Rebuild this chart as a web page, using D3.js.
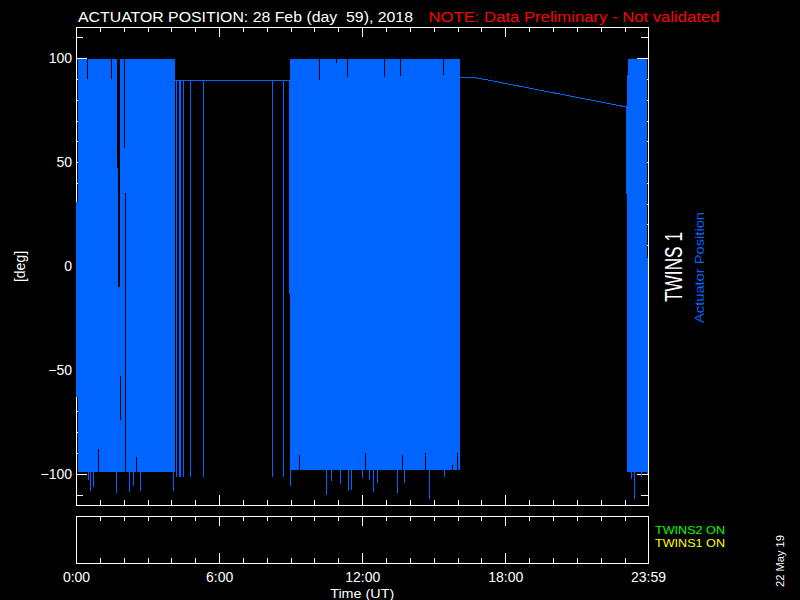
<!DOCTYPE html>
<html><head><meta charset="utf-8">
<script src="https://cdn.jsdelivr.net/npm/d3@7"></script>
<style>
html,body{margin:0;padding:0;background:#000;}
svg{display:block;}
text{font-family:"Liberation Sans",Arial,sans-serif;white-space:pre;}
</style>
</head><body>
<svg id="chart" width="800" height="600"></svg>
<script>
// ---------- texts ----------
const titleText = "ACTUATOR POSITION: 28 Feb (day  59), 2018";
const noteText = "NOTE: Data Preliminary - Not validated";
const yAxisTitle = "[deg]";
const xAxisTitle = "Time (UT)";
const panelLabel = "TWINS 1";
const seriesLabel = "Actuator Position";
const statusLabels = ["TWINS2 ON", "TWINS1 ON"];
const statusColors = ["#00ff00", "#ffff00"];
const stampText = "22 May 19";

// ---------- ticks ----------
const yMajorTicks = [-100, -50, 0, 50, 100];
const yTickLabels = ["\u2212100", "\u221250", "0", "50", "100"];
const yMinorTicks = [-110, -90, -80, -70, -60, -40, -30, -20, -10, 10, 20, 30, 40, 60, 70, 80, 90, 110];
const hourMinorTicks = [1, 2, 3, 4, 5, 7, 8, 9, 10, 11, 13, 14, 15, 16, 17, 19, 20, 21, 22, 23];
const hourMajorTicks = [0, 6, 12, 18, 1439 / 60];
const hourTickLabels = ["0:00", "6:00", "12:00", "18:00", "23:59"];

// ---------- data (hours UT, degrees) ----------
// sweep envelopes: the actuator sweeps continuously between low and high
const bandStart = [0.00, 0.075, 8.92, 8.96, 23.06, 23.10, 23.15, 23.96];
const bandEnd   = [0.075, 4.16, 8.96, 16.09, 23.10, 23.15, 23.96, 24.00];
const bandLow   = [-63, -99, -13.6, -98.3, 34.5, -99, -99, -98];
const bandHigh  = [31, 99.6, 89.4, 99.6, 76.5, 91.7, 99.8, 4];

// sweep shortfalls (ranges not reached inside a sweep envelope)
const gapStart = [0.48, 1.48, 1.74, 1.78, 1.84, 2.00, 2.06, 0.94, 2.53, 10.17, 10.89, 11.35, 12.90, 13.57, 15.37, 9.33, 12.10, 13.65, 14.62, 15.75, 15.97];
const gapEnd   = [0.52, 1.52, 1.78, 1.84, 1.87, 2.06, 2.09, 0.98, 2.57, 10.21, 10.96, 11.39, 12.94, 13.61, 15.41, 9.37, 12.14, 13.69, 14.66, 15.79, 16.01];
const gapLow   = [90, 90, 47, -10, -74, 57, -99, -99, -99, 89.7, 97.6, 90.9, 90.9, 91.3, 91.8, -98.3, -98.3, -98.3, -98.3, -98.3, -98.3];
const gapHigh  = [99.6, 99.6, 99.6, 99.6, -53, 99.6, 35, -88, -91.8, 99.6, 99.6, 99.6, 99.6, 99.6, 99.6, -91, -90, -91, -90, -95.8, -90];

// overshoot spikes below the sweep floor
const spikeHours = [0.50, 0.58, 0.70, 1.67, 2.22, 2.38, 2.68, 4.06, 8.96, 10.48, 10.69, 11.07, 11.41, 11.52, 11.99, 12.29, 12.45, 12.62, 13.46, 13.76, 14.80, 15.43, 23.26, 23.38, 23.70, 23.93];
const spikeLows  = [-102.9, -108.2, -106.2, -109.4, -108.9, -105.8, -108.2, -108.2, -105.8, -110.1, -103.5, -104.9, -108.2, -107.7, -101.9, -102.9, -108.7, -104.5, -109.2, -104.2, -112.2, -101.3, -102.6, -112.2, -101.3, -100];
const spikeTop = -97;

// parked position with brief full-range drops
const holdLine = [[4.16, 89.4], [8.94, 89.4]];
const holdDropHours = [4.18, 4.31, 4.36, 4.48, 4.78, 5.32, 8.22, 8.68];
const holdDropLow = -101.7;
const driftLine = [[16.09, 90.6], [16.76, 90.6], [23.09, 76.5]];

// ---------- drawing ----------
const svg = d3.select("#chart");
const blue = "rgb(0,100,255)";
svg.append("rect").attr("width", 800).attr("height", 600).attr("fill", "#000");

const x = d3.scaleLinear().domain([0, 1439 / 60]).range([76, 648]);
const y = d3.scaleLinear().domain([-115, 115]).range([505, 27]);
const fTop = 27.5, fBottom = 505.5, fLeft = 76.5, fRight = 648.5;
const pTop = 516.5, pBottom = 563.5;

function styleAxis(g) {
  g.select(".domain").remove();
  g.selectAll(".tick line").attr("stroke", "#fff").attr("stroke-width", 1).attr("shape-rendering", "crispEdges");
  g.selectAll(".tick text").attr("fill", "#fff").attr("font-size", 14)
    .attr("font-family", "'Liberation Sans',Arial,sans-serif");
}

// frames
svg.append("rect").attr("x", fLeft).attr("y", fTop).attr("width", fRight - fLeft).attr("height", fBottom - fTop)
  .attr("fill", "none").attr("stroke", "#fff").attr("shape-rendering", "crispEdges");
svg.append("rect").attr("x", fLeft).attr("y", pTop).attr("width", fRight - fLeft).attr("height", pBottom - pTop)
  .attr("fill", "none").attr("stroke", "#fff").attr("shape-rendering", "crispEdges");

// y axes (left and right)
svg.append("g").attr("transform", `translate(${fLeft - 0.5},0)`)
  .call(d3.axisLeft(y).tickValues(yMinorTicks).tickSize(-7).tickFormat("")).call(styleAxis);
svg.append("g").attr("transform", `translate(${fLeft - 0.5},0)`)
  .call(d3.axisLeft(y).tickValues(yMajorTicks).tickSize(-11).tickPadding(4)
    .tickFormat((d, i) => yTickLabels[i])).call(styleAxis);
svg.append("g").attr("transform", `translate(${fRight - 0.5},0)`)
  .call(d3.axisRight(y).tickValues(yMinorTicks).tickSize(-7).tickFormat("")).call(styleAxis);
svg.append("g").attr("transform", `translate(${fRight - 0.5},0)`)
  .call(d3.axisRight(y).tickValues(yMajorTicks).tickSize(-11).tickFormat("")).call(styleAxis);

// x axes (main panel top/bottom, status panel top/bottom)
[[fTop, "top"], [fBottom, "bottom"], [pTop, "top"], [pBottom, "bottom"]].forEach(([yy, side]) => {
  const mk = side === "top" ? d3.axisTop : d3.axisBottom;
  svg.append("g").attr("transform", `translate(0,${yy - 0.5})`)
    .call(mk(x).tickValues(hourMinorTicks).tickSize(-5).tickFormat("")).call(styleAxis);
  svg.append("g").attr("transform", `translate(0,${yy - 0.5})`)
    .call(mk(x).tickValues(hourMajorTicks.slice(1, 4)).tickSize(-10).tickFormat("")).call(styleAxis);
});
// time labels
svg.append("g").attr("transform", `translate(0,${pBottom - 0.5})`)
  .call(d3.axisBottom(x).tickValues(hourMajorTicks).tickSize(0).tickPadding(0)
    .tickFormat((d, i) => hourTickLabels[i])).call(styleAxis)
  .selectAll(".tick text").attr("y", 19).attr("dy", null);

// ---------- data marks ----------
const dataG = svg.append("g").attr("shape-rendering", "crispEdges");
dataG.selectAll("rect.band").data(bandStart.map((s, i) => i)).join("rect").attr("class", "band")
  .attr("x", i => Math.round(x(bandStart[i])))
  .attr("width", i => Math.max(1, Math.round(x(bandEnd[i])) - Math.round(x(bandStart[i]))))
  .attr("y", i => y(bandHigh[i]))
  .attr("height", i => y(bandLow[i]) - y(bandHigh[i]))
  .attr("fill", blue);

dataG.selectAll("rect.gap").data(gapStart.map((s, i) => i)).join("rect").attr("class", "gap")
  .attr("x", i => Math.round(x(gapStart[i])))
  .attr("width", i => Math.max(1, Math.round(x(gapEnd[i])) - Math.round(x(gapStart[i]))))
  .attr("y", i => y(gapHigh[i]))
  .attr("height", i => y(gapLow[i]) - y(gapHigh[i]))
  .attr("fill", "#000");

dataG.selectAll("line.spike").data(spikeHours.map((h, i) => i)).join("line").attr("class", "spike")
  .attr("x1", i => Math.round(x(spikeHours[i])) + 0.5)
  .attr("x2", i => Math.round(x(spikeHours[i])) + 0.5)
  .attr("y1", y(spikeTop))
  .attr("y2", i => y(spikeLows[i]))
  .attr("stroke", blue).attr("stroke-width", 1);

const line = d3.line().x(d => x(d[0])).y(d => y(d[1]));
dataG.append("path").attr("d", line(holdLine)).attr("fill", "none").attr("stroke", blue).attr("stroke-width", 1);
dataG.append("path").attr("d", line(driftLine)).attr("fill", "none").attr("stroke", blue).attr("stroke-width", 1);

dataG.selectAll("line.drop").data(holdDropHours).join("line").attr("class", "drop")
  .attr("x1", h => Math.round(x(h)) + 0.5).attr("x2", h => Math.round(x(h)) + 0.5)
  .attr("y1", y(holdLine[0][1])).attr("y2", y(holdDropLow))
  .attr("stroke", blue).attr("stroke-width", 1);

// ---------- texts ----------
svg.append("text").attr("x", 78).attr("y", 22).attr("fill", "#fff").attr("font-size", 14)
  .attr("textLength", 335).attr("lengthAdjust", "spacingAndGlyphs").text(titleText);
svg.append("text").attr("x", 428.5).attr("y", 22).attr("fill", "#ff0000").attr("font-size", 14)
  .attr("textLength", 291).attr("lengthAdjust", "spacingAndGlyphs").text(noteText);

svg.append("text").attr("transform", "translate(25,266.5) rotate(-90)").attr("text-anchor", "middle")
  .attr("fill", "#fff").attr("font-size", 14).text(yAxisTitle);

svg.append("text").attr("x", x(12)).attr("y", 597.5).attr("text-anchor", "middle")
  .attr("fill", "#fff").attr("font-size", 13).attr("textLength", 64).attr("lengthAdjust", "spacingAndGlyphs").text(xAxisTitle);

svg.append("text").attr("transform", "translate(682,267) rotate(-90)").attr("text-anchor", "middle")
  .attr("fill", "#fff").attr("font-size", 23).attr("textLength", 70).attr("lengthAdjust", "spacingAndGlyphs").text(panelLabel);
svg.append("text").attr("transform", "translate(703.5,267.5) rotate(-90)").attr("text-anchor", "middle")
  .attr("fill", blue).attr("font-size", 13).attr("textLength", 111).attr("lengthAdjust", "spacingAndGlyphs").text(seriesLabel);

svg.selectAll("text.status").data(statusLabels).join("text").attr("class", "status")
  .attr("x", 655).attr("y", (d, i) => 534 + i * 12.5)
  .attr("fill", (d, i) => statusColors[i]).attr("font-size", 11)
  .attr("textLength", 70).attr("lengthAdjust", "spacingAndGlyphs").text(d => d);

svg.append("text").attr("transform", "translate(784,561) rotate(-90)").attr("text-anchor", "middle")
  .attr("fill", "#fff").attr("font-size", 11).attr("textLength", 52).attr("lengthAdjust", "spacingAndGlyphs").text(stampText);
</script>
</body></html>
